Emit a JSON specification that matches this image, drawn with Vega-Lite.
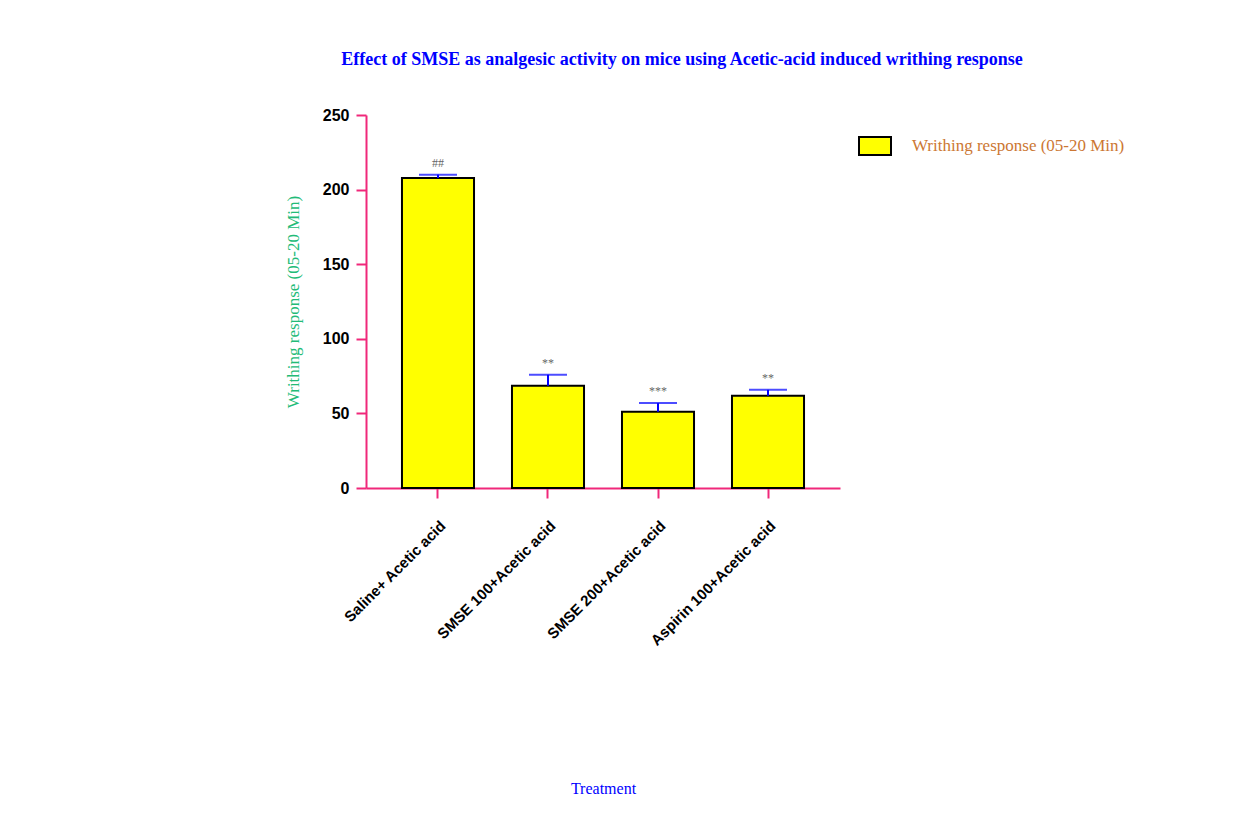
{
  "$schema": "https://vega.github.io/schema/vega-lite/v6.json",
  "autosize": {"type": "none"},
  "width": 474,
  "height": 373,
  "padding": {"left": 366, "top": 115, "right": 408, "bottom": 339},
  "background": "white",
  "config": {"view": {"stroke": null}},
  "title": {
    "text": "Effect of SMSE as analgesic activity on mice using Acetic-acid induced writhing response",
    "anchor": "middle",
    "frame": "group",
    "dx": 79,
    "offset": 38,
    "font": "Liberation Serif",
    "fontSize": 18,
    "fontWeight": "bold",
    "color": "#0000FF"
  },
  "data": {
    "values": [
      {"treatment": "Saline+ Acetic acid", "mean": 207.8, "upper": 210.0, "sig": "##"},
      {"treatment": "SMSE 100+Acetic acid", "mean": 68.5, "upper": 75.9, "sig": "**"},
      {"treatment": "SMSE 200+Acetic acid", "mean": 51.1, "upper": 56.9, "sig": "***"},
      {"treatment": "Aspirin 100+Acetic acid", "mean": 61.8, "upper": 65.8, "sig": "**"}
    ]
  },
  "encoding": {
    "x": {
      "field": "treatment",
      "type": "nominal",
      "sort": null,
      "scale": {"paddingInner": 0.345, "paddingOuter": 0.327},
      "axis": {
        "title": "Treatment",
        "titleFont": "Liberation Serif",
        "titleFontWeight": "normal",
        "titleFontSize": 16,
        "titleColor": "#0000FF",
        "titleY": 292,
        "labelAngle": -45,
        "labelFont": "Liberation Sans",
        "labelFontWeight": "bold",
        "labelFontSize": 15,
        "labelColor": "black",
        "labelPadding": 20,
        "labelLimit": 0,
        "domainColor": "#F0287A",
        "domainWidth": 2,
        "tickColor": "#F0287A",
        "tickWidth": 2,
        "tickSize": 10
      }
    }
  },
  "layer": [
    {
      "mark": {"type": "bar", "stroke": "black", "strokeWidth": 2},
      "encoding": {
        "y": {
          "field": "mean",
          "type": "quantitative",
          "scale": {"domain": [0, 250], "nice": false},
          "axis": {
            "title": "Writhing response (05-20 Min)",
            "titleFont": "Liberation Serif",
            "titleFontWeight": "normal",
            "titleFontSize": 17,
            "titleColor": "#22BB77",
            "titlePadding": 20,
            "values": [0, 50, 100, 150, 200, 250],
            "grid": false,
            "labelFont": "Liberation Sans",
            "labelFontWeight": "bold",
            "labelFontSize": 16,
            "labelColor": "black",
            "labelPadding": 7,
            "domainColor": "#F0287A",
            "domainWidth": 2,
            "tickColor": "#F0287A",
            "tickWidth": 2,
            "tickSize": 10
          }
        },
        "color": {
          "datum": "Writhing response (05-20 Min)",
          "type": "nominal",
          "scale": {"range": ["#FFFF00"]},
          "legend": {
            "title": null,
            "orient": "none",
            "legendX": 492,
            "legendY": 14,
            "symbolType": "M-1,-0.56H1V0.56H-1Z",
            "symbolSize": 1024,
            "symbolStrokeColor": "black",
            "symbolStrokeWidth": 2,
            "symbolFillColor": "#FFFF00",
            "labelFont": "Liberation Serif",
            "labelFontSize": 17,
            "labelColor": "#CC7733",
            "labelOffset": 20,
            "labelLimit": 0
          }
        }
      }
    },
    {
      "mark": {"type": "rule", "color": "#0000FF", "strokeWidth": 2},
      "encoding": {
        "y": {"field": "mean", "type": "quantitative"},
        "y2": {"field": "upper"}
      }
    },
    {
      "mark": {"type": "tick", "color": "#0000FF", "thickness": 2, "size": 38, "orient": "horizontal"},
      "encoding": {
        "y": {"field": "upper", "type": "quantitative"}
      }
    },
    {
      "mark": {"type": "text", "baseline": "bottom", "dy": -5, "font": "Liberation Serif", "fontSize": 12, "color": "#666666"},
      "encoding": {
        "y": {"field": "upper", "type": "quantitative"},
        "text": {"field": "sig"}
      }
    }
  ]
}
